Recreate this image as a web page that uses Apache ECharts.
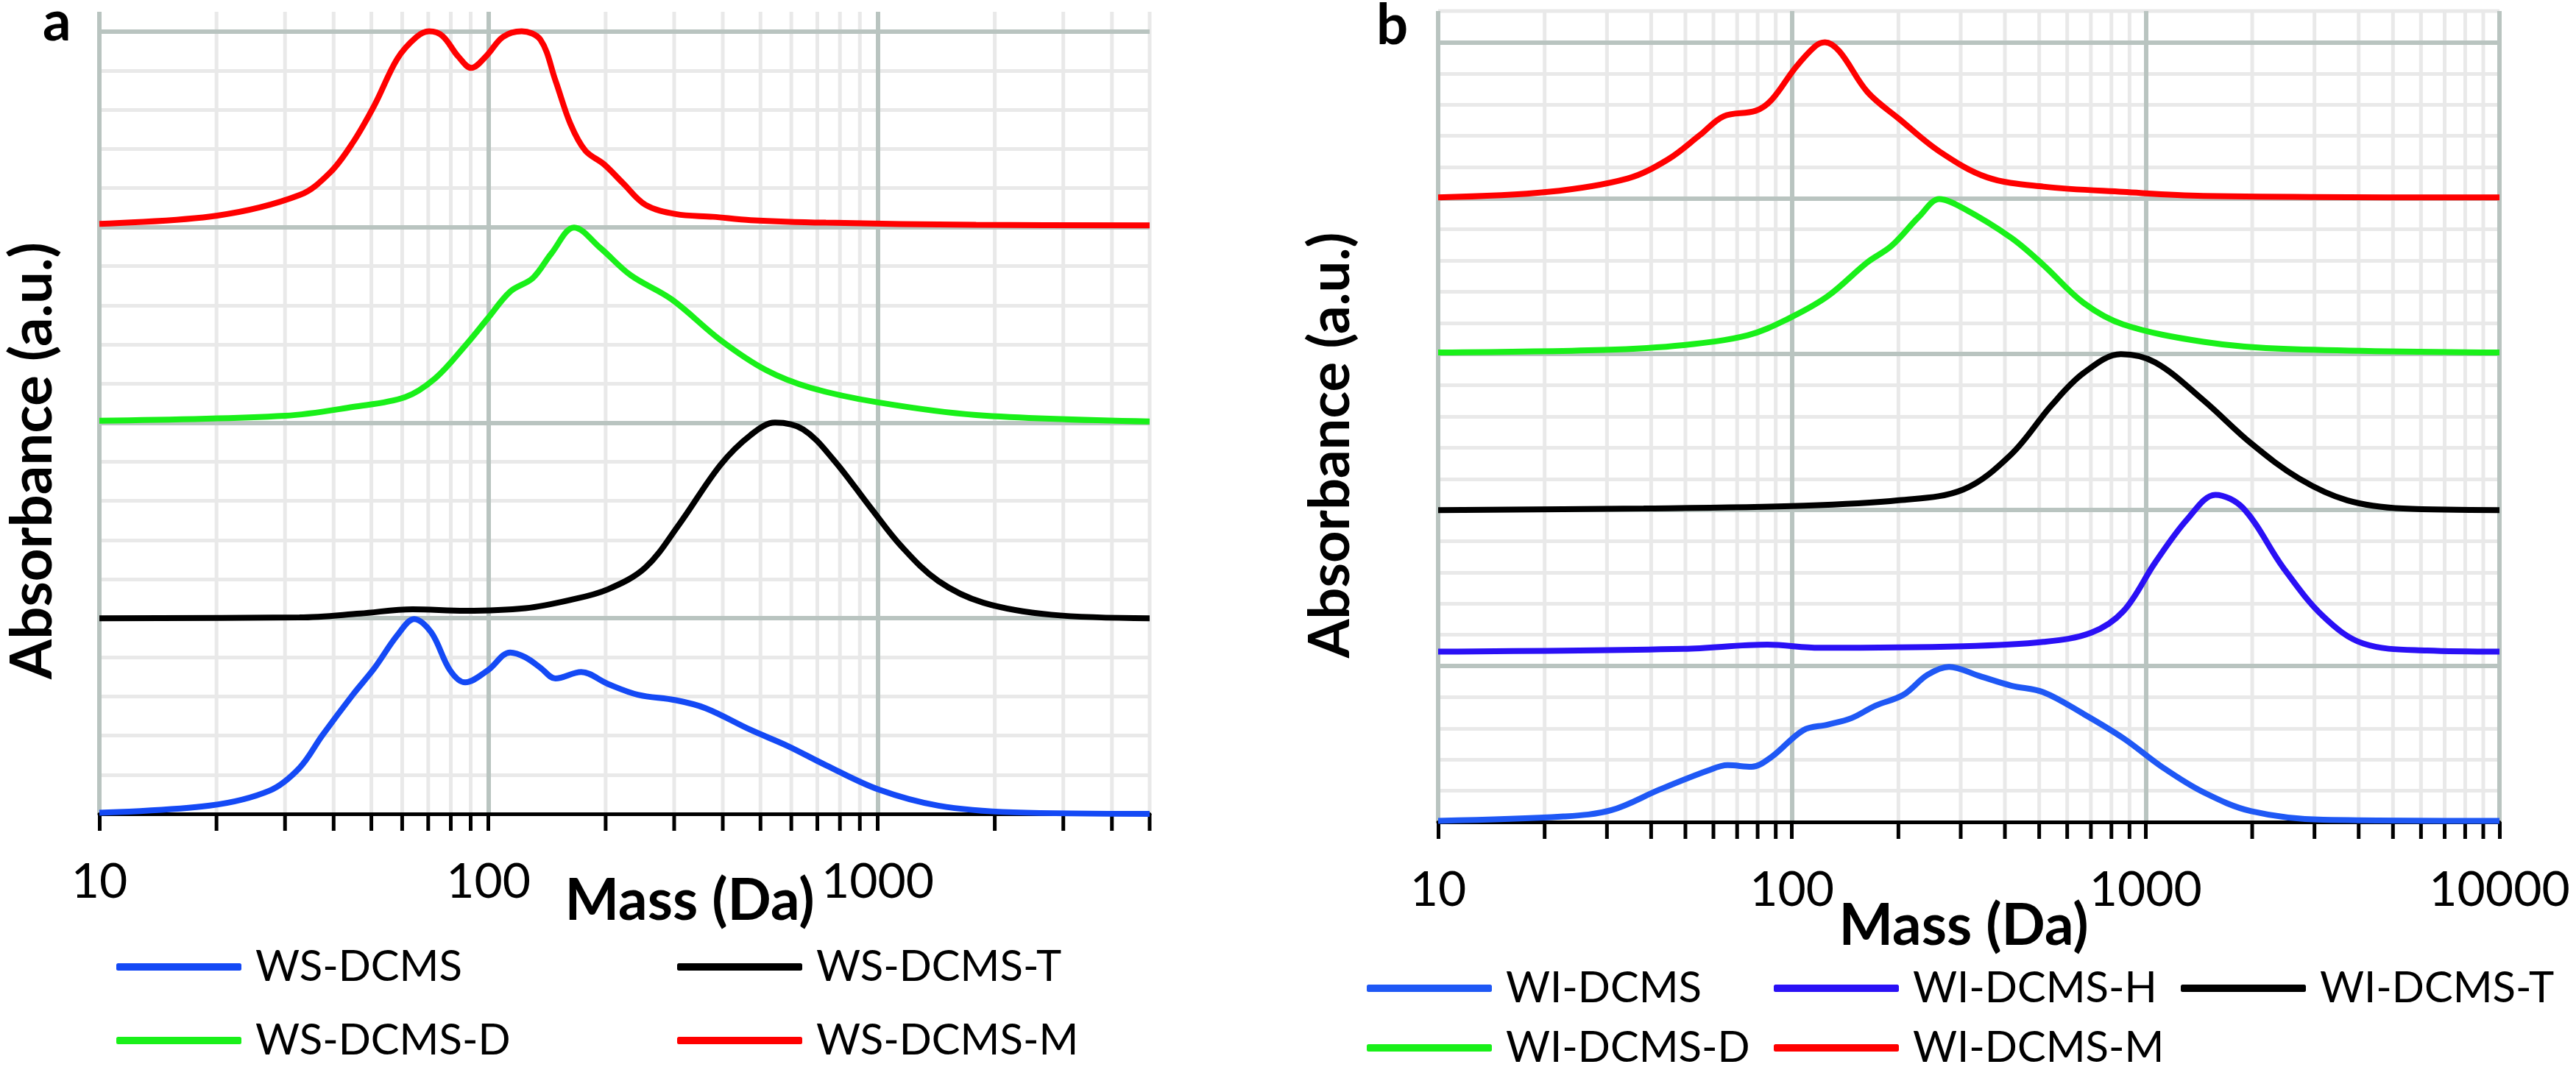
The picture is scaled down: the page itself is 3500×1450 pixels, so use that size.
<!DOCTYPE html>
<html><head><meta charset="utf-8">
<script src="https://cdn.jsdelivr.net/npm/echarts@6/dist/echarts.min.js"></script>
<style>html,body{margin:0;padding:0;background:#fff}#c{width:3500px;height:1450px}</style>
</head><body><div id="c"></div>
<script>
// ---------- Panel a (water-soluble) ----------
const wsDcmsMass = [10,19.2,27.4,32.7,37.4,44.8,51,58.3,64.4,71.3,79.7,87.1,99.5,113.7,124.5,136,148.6,173,202.7,242,302.6,361.5,472,589,736,1004,1433,2233,5000];
const wsDcmsAbs  = [0.006,0.042,0.119,0.235,0.401,0.609,0.747,0.913,0.996,0.927,0.733,0.672,0.733,0.825,0.80,0.747,0.692,0.725,0.664,0.609,0.581,0.54,0.429,0.346,0.249,0.125,0.042,0.008,0.0];

const wsDcmsTMass = [10,32.7,46.8,63.8,87.1,124.5,162,202.7,253,309,395,472,545,644,769,961,1148,1433,1871,2792,5000];
const wsDcmsTAbs  = [1.0,1.004,1.024,1.046,1.038,1.051,1.093,1.148,1.259,1.48,1.785,1.937,2.0,1.965,1.812,1.563,1.37,1.19,1.079,1.018,1.0];

const wsDcmsDMass = [10,30,44.8,61,73,87.1,99.5,113.7,130,145,166,194,232,296,395,516,673,1004,1790,5000];
const wsDcmsDAbs  = [2.01,2.035,2.08,2.13,2.227,2.393,2.532,2.67,2.739,2.864,2.997,2.892,2.753,2.629,2.421,2.269,2.178,2.103,2.039,2.006];

const wsDcmsMMass = [10,20.1,32.7,39.2,44.8,51,58.3,65.3,70.4,76.2,83.4,90.3,98.7,108.9,121.7,136,148.6,162.3,177.4,198.2,221.6,253.2,302.6,377.7,472,736,1790,5000];
const wsDcmsMAbs  = [3.016,3.058,3.163,3.279,3.431,3.625,3.86,3.971,4.0,3.976,3.874,3.813,3.874,3.971,4.0,3.957,3.749,3.528,3.39,3.32,3.224,3.113,3.066,3.052,3.035,3.022,3.011,3.008];

// ---------- Panel b (water-insoluble) ----------
const wiDcmsMass = [10,22.6,30.9,42.3,57.8,65.8,76.9,87.5,107.8,126,147.4,172,206.5,241.5,278,339,417,514,667,865,1122,1455,1988,3177,10000];
const wiDcmsAbs  = [0.007,0.035,0.076,0.208,0.329,0.364,0.354,0.416,0.589,0.624,0.666,0.745,0.815,0.943,0.995,0.936,0.874,0.832,0.693,0.537,0.347,0.191,0.069,0.014,0.007];

const wiDcmsHMass = [10,49.4,85.3,119.7,305,514,702,865,1064,1312,1574,1888,2449,3177,4121,6243,10000];
const wiDcmsHAbs  = [1.092,1.11,1.137,1.117,1.127,1.155,1.214,1.352,1.664,1.942,2.098,2.011,1.63,1.318,1.144,1.099,1.092];

const wiDcmsTMass = [10,38.1,108,201,305,417,541,667,851,1064,1455,1988,2716,3709,5341,10000];
const wiDcmsTAbs  = [2.0,2.01,2.028,2.063,2.132,2.358,2.67,2.878,3.0,2.947,2.705,2.427,2.202,2.063,2.01,2.0];

const wiDcmsDMass = [10,29.4,49.4,75,97.2,126,163.5,191,229,261,305,417,514,667,865,1455,2449,10000];
const wiDcmsDAbs  = [3.01,3.027,3.058,3.121,3.225,3.37,3.589,3.693,3.883,3.994,3.935,3.745,3.571,3.329,3.19,3.079,3.034,3.01];

const wiDcmsMMass = [10,20.4,34.3,44.6,54.9,64.1,78.9,87.5,102.3,116.6,124,136.3,163.5,201,261,357,514,865,1455,10000];
const wiDcmsMAbs  = [4.005,4.04,4.126,4.248,4.404,4.525,4.56,4.629,4.837,4.976,5.0,4.941,4.681,4.508,4.3,4.133,4.074,4.04,4.015,4.005];

// ---------- Axis ranges & minor log ticks ----------
const xMinA = 10, xMaxA = 5000, yMaxA = 4.1;
const xMinB = 10, xMaxB = 10000, yMaxB = 5.2;
const minorTicksA = [20,30,40,50,60,70,80,90,200,300,400,500,600,700,800,900,2000,3000,4000,5000];
const minorTicksB = [20,30,40,50,60,70,80,90,200,300,400,500,600,700,800,900,2000,3000,4000,5000,6000,7000,8000,9000];

// ---------- Styles ----------
const FONT = 'Lato';
const GRID_MAJOR = '#b9c4c0';
const GRID_MINOR = '#e9e9e9';
const C_BLUE_A = '#1449f5', C_BLUE_B = '#1f58f5', C_BLUE_H = '#2a10f5';
const C_GREEN = '#19f019', C_RED = '#ff0000', C_BLACK = '#000000';

function xAxis(gridIndex, min, max, showMax) {
  return {
    type: 'log', logBase: 10, gridIndex: gridIndex, min: min, max: max, z: 2,
    axisLine: { show: true, onZero: false, lineStyle: { color: '#000', width: 5 } },
    axisTick: { show: true, length: 23, lineStyle: { color: '#000', width: 5 } },
    axisLabel: { show: true, fontFamily: FONT, fontSize: 66, color: '#000', margin: 60,
      showMaxLabel: showMax, formatter: function (v) { return String(Math.round(v)); } },
    splitLine: { show: true, showMaxLine: showMax, lineStyle: { color: GRID_MAJOR, width: 6 } }
  };
}
function yAxis(gridIndex, max) {
  return {
    type: 'value', gridIndex: gridIndex, min: 0, max: max, interval: 1, z: 1,
    axisLine: { show: false }, axisTick: { show: false }, axisLabel: { show: false },
    splitLine: { show: true, showMinLine: false, showMaxLine: false, lineStyle: { color: GRID_MAJOR, width: 6 } },
    minorTick: { show: false, splitNumber: 5 },
    minorSplitLine: { show: true, lineStyle: { color: GRID_MINOR, width: 5 } }
  };
}
function minorGrid(idx, values, topLine) {
  return {
    type: 'custom', xAxisIndex: idx, yAxisIndex: idx, z: 0, silent: true, clip: false,
    data: values.map(function (v) { return [v, 0]; }),
    encode: { x: 0, y: 1 },
    renderItem: function (params, api) {
      const cs = params.coordSys;
      const p = api.coord([api.value(0), 0]);
      const bottom = cs.y + cs.height;
      const children = [
        { type: 'line', shape: { x1: p[0], y1: cs.y, x2: p[0], y2: bottom }, style: { stroke: GRID_MINOR, lineWidth: 5 } },
        { type: 'line', shape: { x1: p[0], y1: bottom, x2: p[0], y2: bottom + 23 }, style: { stroke: '#000', lineWidth: 5 } }
      ];
      if (topLine && params.dataIndex === 0) {
        children.push({ type: 'line', shape: { x1: cs.x, y1: cs.y, x2: cs.x + cs.width, y2: cs.y }, style: { stroke: GRID_MINOR, lineWidth: 5 } });
      }
      return { type: 'group', children: children };
    }
  };
}
function lineSeries(name, idx, mass, abs, color) {
  return {
    type: 'line', name: name, xAxisIndex: idx, yAxisIndex: idx, z: 3,
    data: mass.map(function (m, i) { return [m, abs[i]]; }),
    smooth: 0.35, symbol: 'none', showSymbol: false,
    lineStyle: { color: color, width: 8 }, itemStyle: { color: color }
  };
}
function legendItem(name, left, rowY) {
  return {
    data: [name], orient: 'horizontal', left: left, top: rowY - 28, padding: 0,
    itemWidth: 170, itemHeight: 10, itemGap: 0, icon: 'roundRect', selectedMode: false,
    textStyle: { fontFamily: FONT, fontSize: 58, lineHeight: 56, color: '#000', padding: [0, 0, 0, 14] }
  };
}

const chart = echarts.init(document.getElementById('c'), null, { renderer: 'canvas', width: 3500, height: 1450 });
chart.setOption({
  backgroundColor: '#fff',
  animation: false,
  grid: [
    { left: 135, top: 16, width: 1427, height: 1090, containLabel: false, outerBoundsMode: 'none' },
    { left: 1954, top: 15, width: 1442, height: 1102, containLabel: false, outerBoundsMode: 'none' }
  ],
  xAxis: [ xAxis(0, xMinA, xMaxA, false), xAxis(1, xMinB, xMaxB, true) ],
  yAxis: [ yAxis(0, yMaxA), yAxis(1, yMaxB) ],
  legend: [
    legendItem('WS-DCMS', 158, 1313),
    legendItem('WS-DCMS-D', 158, 1413),
    legendItem('WS-DCMS-T', 920, 1313),
    legendItem('WS-DCMS-M', 920, 1413),
    legendItem('WI-DCMS', 1857, 1342),
    legendItem('WI-DCMS-D', 1857, 1423),
    legendItem('WI-DCMS-H', 2410, 1342),
    legendItem('WI-DCMS-M', 2410, 1423),
    legendItem('WI-DCMS-T', 2963, 1342)
  ],
  graphic: [
    { type: 'text', x: 58, y: 30, style: { text: 'a', font: 'bold 76px Lato', fill: '#000', align: 'left', verticalAlign: 'middle' } },
    { type: 'text', x: 1870, y: 35, style: { text: 'b', font: 'bold 76px Lato', fill: '#000', align: 'left', verticalAlign: 'middle' } },
    { type: 'text', x: 45, y: 626, rotation: Math.PI / 2, style: { text: 'Absorbance (a.u.)', font: 'bold 78px Lato', fill: '#000', align: 'center', verticalAlign: 'middle' } },
    { type: 'text', x: 1808, y: 605, rotation: Math.PI / 2, style: { text: 'Absorbance (a.u.)', font: 'bold 76px Lato', fill: '#000', align: 'center', verticalAlign: 'middle' } },
    { type: 'text', x: 937, y: 1225, style: { text: 'Mass (Da)', font: 'bold 78px Lato', fill: '#000', align: 'center', verticalAlign: 'middle' } },
    { type: 'text', x: 2668, y: 1259, style: { text: 'Mass (Da)', font: 'bold 78px Lato', fill: '#000', align: 'center', verticalAlign: 'middle' } }
  ],
  series: [
    minorGrid(0, minorTicksA, false),
    minorGrid(1, minorTicksB, true),
    lineSeries('WS-DCMS', 0, wsDcmsMass, wsDcmsAbs, C_BLUE_A),
    lineSeries('WS-DCMS-T', 0, wsDcmsTMass, wsDcmsTAbs, C_BLACK),
    lineSeries('WS-DCMS-D', 0, wsDcmsDMass, wsDcmsDAbs, C_GREEN),
    lineSeries('WS-DCMS-M', 0, wsDcmsMMass, wsDcmsMAbs, C_RED),
    lineSeries('WI-DCMS', 1, wiDcmsMass, wiDcmsAbs, C_BLUE_B),
    lineSeries('WI-DCMS-H', 1, wiDcmsHMass, wiDcmsHAbs, C_BLUE_H),
    lineSeries('WI-DCMS-T', 1, wiDcmsTMass, wiDcmsTAbs, C_BLACK),
    lineSeries('WI-DCMS-D', 1, wiDcmsDMass, wiDcmsDAbs, C_GREEN),
    lineSeries('WI-DCMS-M', 1, wiDcmsMMass, wiDcmsMAbs, C_RED)
  ]
});
</script></body></html>
